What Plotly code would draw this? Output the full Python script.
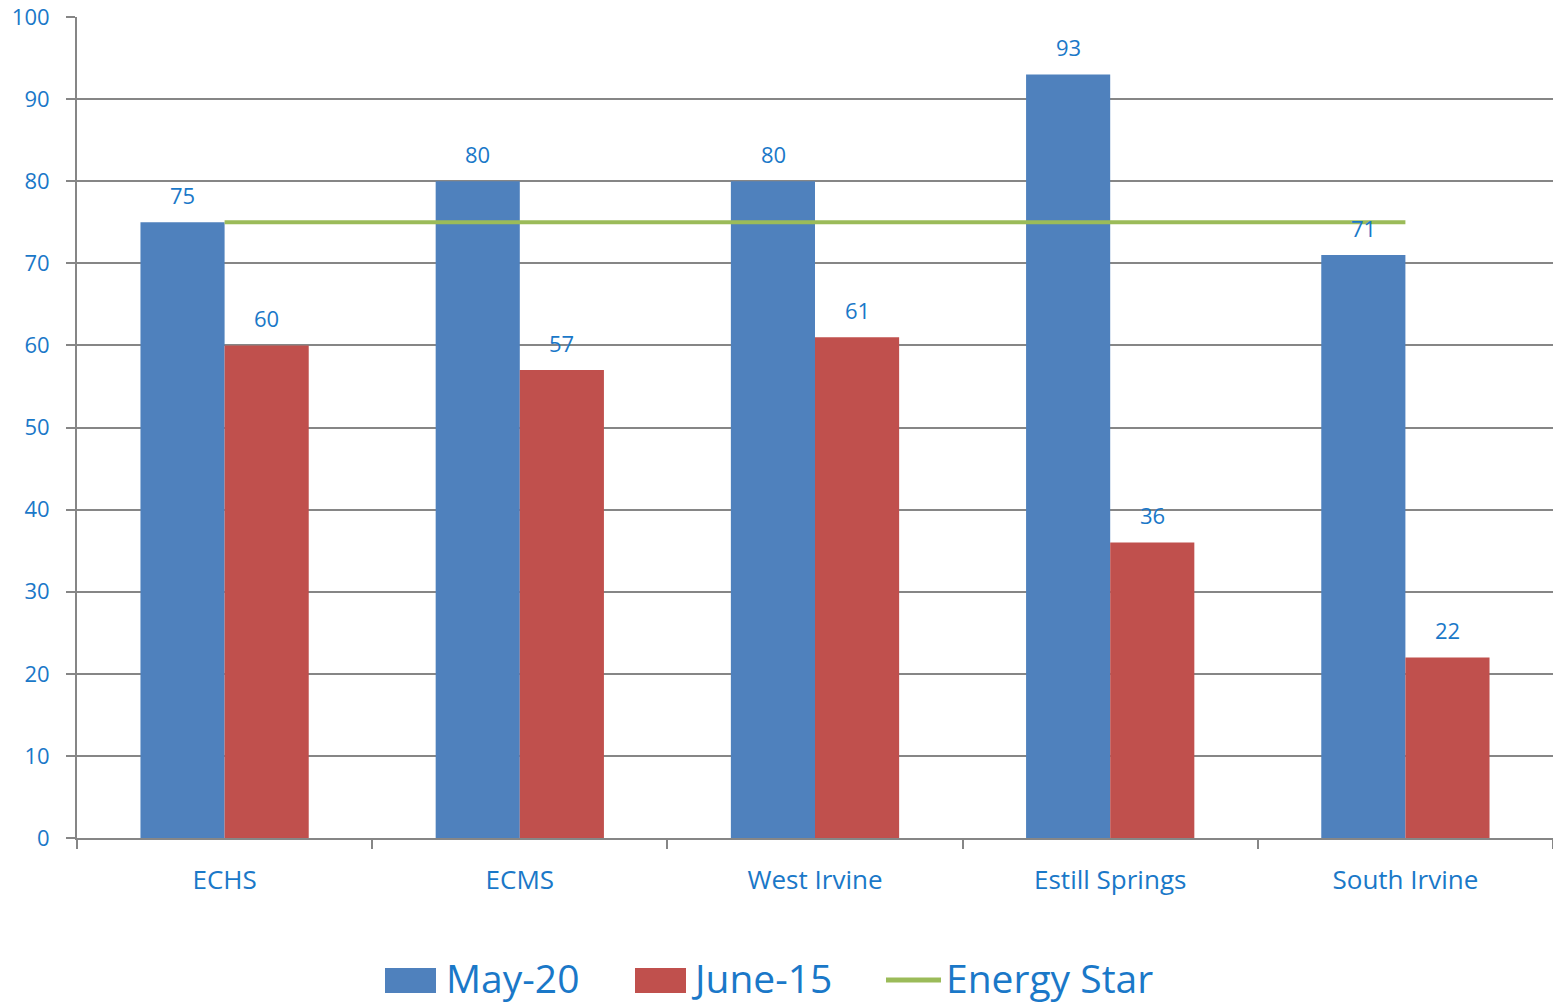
import plotly.graph_objects as go

categories = ["ECHS", "ECMS", "West Irvine", "Estill Springs", "South Irvine"]
may20 = [75, 80, 80, 93, 71]
june15 = [60, 57, 61, 36, 22]
energy_star = [75, 75, 75, 75, 75]
y_ticks = [0, 10, 20, 30, 40, 50, 60, 70, 80, 90, 100]
series_names = ["May-20", "June-15", "Energy Star"]

BLUE = "#4F81BD"
RED = "#C0504D"
GREEN = "#9BBB59"
TEXT = "#1a78c8"
GRID = "#868686"
FONT = "Open Sans"

W, H = 1553, 1006
ML, MR, MT, MB = 77, 0, 17, 168
PW, PH = W - ML - MR, H - MT - MB


def px(xp):
    return (xp - ML) / PW


def py(yp):
    return (H - MB - yp) / PH


fig = go.Figure()
fig.add_trace(go.Bar(x=categories, y=may20, name=series_names[0], marker_color=BLUE,
                     marker_line_width=0, showlegend=False))
fig.add_trace(go.Bar(x=categories, y=june15, name=series_names[1], marker_color=RED,
                     marker_line_width=0, showlegend=False))
fig.add_trace(go.Scatter(x=categories, y=energy_star, name=series_names[2], mode="lines",
                         line=dict(color=GREEN, width=4), showlegend=False))

annotations = []
for vals, shift in ((may20, -42), (june15, 42)):
    for c, v in zip(categories, vals):
        annotations.append(dict(x=c, y=v, xref="x", yref="y", text=str(v), showarrow=False,
                                xshift=shift, yshift=27, yanchor="middle",
                                font=dict(size=22, color=TEXT, family=FONT)))

# legend (drawn manually to match the swatch sizes)
shapes = [
    dict(type="rect", xref="paper", yref="paper", x0=px(385), x1=px(436), y0=py(993), y1=py(968),
         fillcolor=BLUE, line=dict(width=0)),
    dict(type="rect", xref="paper", yref="paper", x0=px(635), x1=px(686), y0=py(993), y1=py(968),
         fillcolor=RED, line=dict(width=0)),
    dict(type="line", xref="paper", yref="paper", x0=px(886), x1=px(941), y0=py(980), y1=py(980),
         line=dict(color=GREEN, width=5)),
]
for name, xl in zip(series_names, (444, 689, 944)):
    annotations.append(dict(x=px(xl), y=py(977), xref="paper", yref="paper", text=name,
                            showarrow=False, xanchor="left", yanchor="middle",
                            font=dict(size=39, color=TEXT, family=FONT)))

fig.update_layout(
    width=W, height=H,
    margin=dict(l=ML, r=MR, t=MT, b=MB, autoexpand=False),
    plot_bgcolor="white", paper_bgcolor="white",
    barmode="group", bargap=0.43, bargroupgap=0,
    font=dict(family=FONT, color=TEXT),
    showlegend=False,
    annotations=annotations,
    shapes=shapes,
)
fig.update_xaxes(tickson="boundaries", ticks="outside", ticklen=9, tickwidth=2, tickcolor=GRID,
                 showline=True, linecolor=GRID, linewidth=2, showgrid=False, automargin=False,
                 tickfont=dict(size=26, color=TEXT, family=FONT), ticklabelstandoff=18)
fig.update_yaxes(range=[0, 100], tickvals=y_ticks, ticks="outside", ticklen=9, tickwidth=2,
                 tickcolor=GRID, showline=True, linecolor=GRID, linewidth=2, automargin=False,
                 showgrid=True, gridcolor=GRID, gridwidth=2, zeroline=False,
                 tickfont=dict(size=22, color=TEXT, family=FONT), ticklabelstandoff=12)

fig.write_html("out.html", config={"displayModeBar": False},
               post_script="document.body.style.margin='0';document.body.style.overflow='hidden';")
